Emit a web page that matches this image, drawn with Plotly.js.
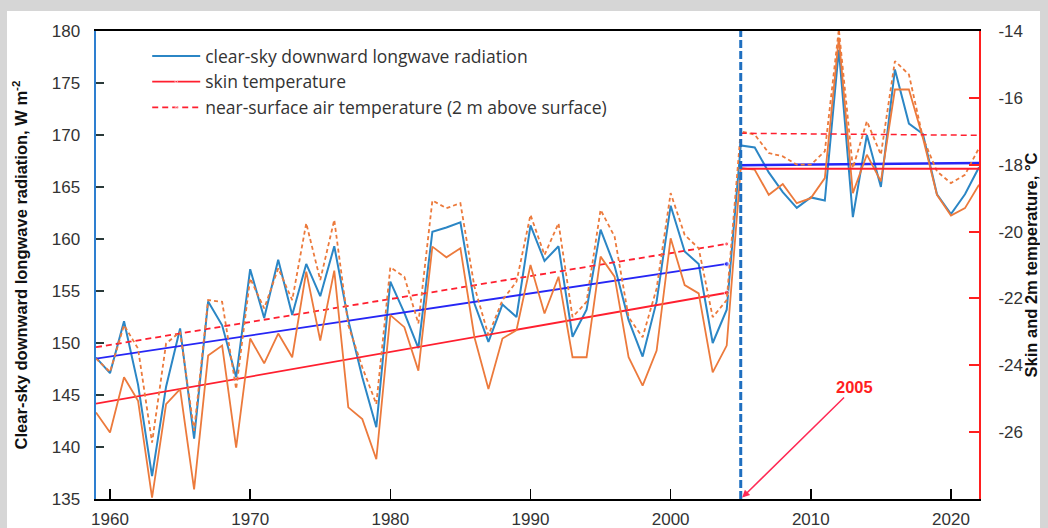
<!DOCTYPE html>
<html>
<head>
<meta charset="utf-8">
<script src="https://cdn.plot.ly/plotly-3.0.1.min.js"></script>
<style>
  html, body { margin: 0; padding: 0; background: #d6d6d6; width: 1048px; height: 528px; overflow: hidden; }
  #chart { position: absolute; left: 7px; top: 11px; width: 1033px; height: 517px; background: #ffffff; }
</style>
</head>
<body>
<div id="chart"></div>
<script>
// ---- data ----
const years = [1959,1960,1961,1962,1963,1964,1965,1966,1967,1968,1969,
  1970,1971,1972,1973,1974,1975,1976,1977,1978,1979,
  1980,1981,1982,1983,1984,1985,1986,1987,1988,1989,
  1990,1991,1992,1993,1994,1995,1996,1997,1998,1999,
  2000,2001,2002,2003,2004,2005,2006,2007,2008,2009,
  2010,2011,2012,2013,2014,2015,2016,2017,2018,2019,
  2020,2021,2022];

// clear-sky downward longwave radiation, W m-2 (left axis)
const lwRadiation = [148.6,147.1,152.1,146.0,137.2,145.8,151.4,140.8,154.0,151.7,146.7,
  157.1,152.4,158.0,152.7,157.6,154.5,159.3,152.2,146.7,141.9,
  155.9,152.9,149.5,160.7,161.1,161.6,153.8,150.1,153.7,152.5,
  161.3,157.9,159.3,150.6,153.2,160.9,157.4,152.2,148.7,154.0,
  163.2,158.8,157.6,150.0,153.2,169.0,168.8,166.4,164.5,163.0,
  164.0,163.7,178.2,162.1,170.0,165.0,176.3,171.1,170.1,164.3,
  162.4,164.3,166.9];

// skin temperature, °C (right axis)
const skinTemp = [-25.41,-26.01,-24.36,-25.06,-27.96,-25.16,-24.71,-27.71,-23.71,-23.41,-26.46,
  -23.20,-23.94,-23.05,-23.76,-21.20,-23.26,-21.17,-25.26,-25.61,-26.81,
  -22.50,-22.86,-24.16,-20.45,-20.77,-20.50,-23.16,-24.71,-23.20,-22.95,
  -21.00,-22.45,-21.35,-23.76,-23.76,-20.75,-21.35,-23.76,-24.61,-23.56,
  -20.20,-21.60,-21.85,-24.21,-23.41,-18.10,-18.15,-18.90,-18.58,-19.15,
  -19.00,-18.40,-14.20,-18.85,-17.70,-18.50,-15.75,-15.75,-17.20,-18.90,
  -19.52,-19.30,-18.60];

// near-surface air temperature (2 m), °C (right axis)
const airTemp = [-23.80,-24.20,-22.80,-23.50,-26.31,-23.35,-23.00,-25.96,-22.05,-22.10,-24.71,
  -21.40,-22.30,-21.10,-22.05,-19.75,-21.45,-19.65,-22.80,-24.06,-25.16,
  -21.07,-21.35,-22.75,-19.07,-19.30,-19.15,-21.65,-23.10,-22.05,-21.50,
  -19.50,-20.70,-19.75,-22.56,-22.10,-19.35,-20.15,-22.56,-23.16,-21.70,
  -18.85,-20.10,-20.50,-22.56,-22.05,-17.00,-17.10,-17.65,-17.75,-18.00,
  -18.00,-17.60,-13.95,-18.10,-16.70,-17.70,-14.90,-15.30,-17.20,-18.20,
  -18.55,-18.30,-17.50];

// trend lines: before the break (1959-2004) and after it (2005-2022)
const trendYearsPre = [1959, 2004];
const trendYearsPost = [2005, 2022];
const lwTrendPre = [148.5, 157.6];
const lwTrendPost = [167.1, 167.3];
const skinTrendPre = [-25.15, -21.83];
const skinTrendPost = [-18.12, -18.12];
const airTrendPre = [-23.46, -20.37];
const airTrendPost = [-17.06, -17.12];

const breakYear = 2005;

// axis ticks
const xTickVals = [1960, 1970, 1980, 1990, 2000, 2010, 2020];
const yTickVals = [135, 140, 145, 150, 155, 160, 165, 170, 175, 180];
const y2TickVals = [-26, -24, -22, -20, -18, -16, -14];
const y2TickText = ['-26', '-24', '-22', '-20', '-18', '-16', '-14'];

const legendNames = [
  'clear-sky downward longwave radiation',
  'skin temperature',
  'near-surface air temperature (2 m above surface)'
];

// ---- colours ----
const cBlueData = '#2B86C5';
const cOrange = '#EC7A3C';
const cBlueTrend = '#2626F5';
const cRedTrend = '#FF1F2F';

const traces = [
  { x: years, y: lwRadiation, yaxis: 'y', type: 'scatter', mode: 'lines',
    name: legendNames[0], line: { color: cBlueData, width: 2 }, showlegend: true, legendrank: 1 },
  { x: trendYearsPre, y: skinTrendPre, yaxis: 'y2', type: 'scatter', mode: 'lines+markers',
    name: legendNames[1], line: { color: cRedTrend, width: 1.8 },
    marker: { size: [0, 5], color: cRedTrend }, showlegend: true, legendrank: 2 },
  { x: trendYearsPre, y: airTrendPre, yaxis: 'y2', type: 'scatter', mode: 'lines+markers',
    name: legendNames[2], line: { color: cRedTrend, width: 1.8, dash: '6px,4px' },
    marker: { size: [0, 4], color: cRedTrend }, showlegend: true, legendrank: 3 },
  { x: years, y: skinTemp, yaxis: 'y2', type: 'scatter', mode: 'lines',
    line: { color: cOrange, width: 1.8 }, showlegend: false },
  { x: years, y: airTemp, yaxis: 'y2', type: 'scatter', mode: 'lines',
    line: { color: cOrange, width: 1.8, dash: '4px,3px' }, showlegend: false },
  { x: trendYearsPre, y: lwTrendPre, yaxis: 'y', type: 'scatter', mode: 'lines+markers',
    line: { color: cBlueTrend, width: 1.8 }, marker: { size: [0, 5], color: cBlueTrend }, showlegend: false },
  { x: trendYearsPost, y: lwTrendPost, yaxis: 'y', type: 'scatter', mode: 'lines',
    line: { color: cBlueTrend, width: 2.5 }, showlegend: false },
  { x: trendYearsPost, y: skinTrendPost, yaxis: 'y2', type: 'scatter', mode: 'lines',
    line: { color: cRedTrend, width: 1.8 }, showlegend: false },
  { x: trendYearsPost, y: airTrendPost, yaxis: 'y2', type: 'scatter', mode: 'lines',
    line: { color: cRedTrend, width: 1.5, dash: '6px,4px' }, showlegend: false }
];

const font = { family: 'Liberation Sans, Arial, sans-serif', color: '#333333' };

const layout = {
  width: 1033, height: 517,
  margin: { l: 89, r: 61, t: 20, b: 29, autoexpand: false },
  paper_bgcolor: '#ffffff', plot_bgcolor: '#ffffff',
  font: Object.assign({ size: 16 }, font),
  showlegend: true,
  legend: {
    x: 0.058, y: 0.985, xanchor: 'left', yanchor: 'top',
    bgcolor: 'rgba(0,0,0,0)', borderwidth: 0,
    font: { family: 'Open Sans, Liberation Sans, sans-serif', size: 17.5, color: '#333333' },
    itemwidth: 48, tracegroupgap: 0
  },
  xaxis: {
    range: [1959, 2022], tickvals: xTickVals, ticks: 'inside', ticklen: 10, tickwidth: 1.5,
    tickcolor: '#000000', showline: true, linecolor: '#000000', linewidth: 2, mirror: true,
    showgrid: false, zeroline: false, tickfont: { size: 17, color: '#333333' }, ticklabelstandoff: 4
  },
  yaxis: {
    range: [135, 180], tickvals: yTickVals, ticks: 'inside', ticklen: 8, tickwidth: 1.5,
    tickcolor: '#2a3a3a', showline: true, linecolor: '#2E7FD0', linewidth: 2.5,
    showgrid: false, zeroline: false, tickfont: { size: 17, color: '#333333' }, ticklabelstandoff: 10,
    title: { text: '<b>Clear-sky downward longwave radiation, W m<sup>-2</sup></b>',
             font: { size: 16.5, color: '#111111' }, standoff: 20 }
  },
  yaxis2: {
    range: [-28, -14], overlaying: 'y', side: 'right', tickvals: y2TickVals, ticktext: y2TickText,
    ticks: 'inside', ticklen: 10, tickwidth: 2, tickcolor: '#FF1F1F', showline: true,
    linecolor: '#FF1F1F', linewidth: 2, showgrid: false, zeroline: false,
    tickfont: { size: 17, color: '#333333' }, ticklabelstandoff: 14,
    title: { text: '<b>Skin and 2m temperature, °C</b>', font: { size: 16.5, color: '#111111' }, standoff: 9 }
  },
  shapes: [
    { type: 'line', xref: 'x', yref: 'paper', x0: breakYear, x1: breakYear, y0: 0, y1: 1,
      line: { color: '#1F6FC0', width: 3, dash: '8px,3px' }, layer: 'above' }
  ],
  annotations: [
    { x: breakYear, y: 135, xref: 'x', yref: 'y', text: '<b>2005</b>', showarrow: true,
      ax: 114, ay: -112, axref: 'pixel', ayref: 'pixel', arrowhead: 2, arrowsize: 1,
      arrowwidth: 1.5, arrowcolor: '#FF2A55', standoff: 2,
      font: { family: font.family, size: 16.5, color: '#FF1F1F' } }
  ]
};

Plotly.newPlot('chart', traces, layout, { displayModeBar: false, staticPlot: true });
</script>
</body>
</html>
